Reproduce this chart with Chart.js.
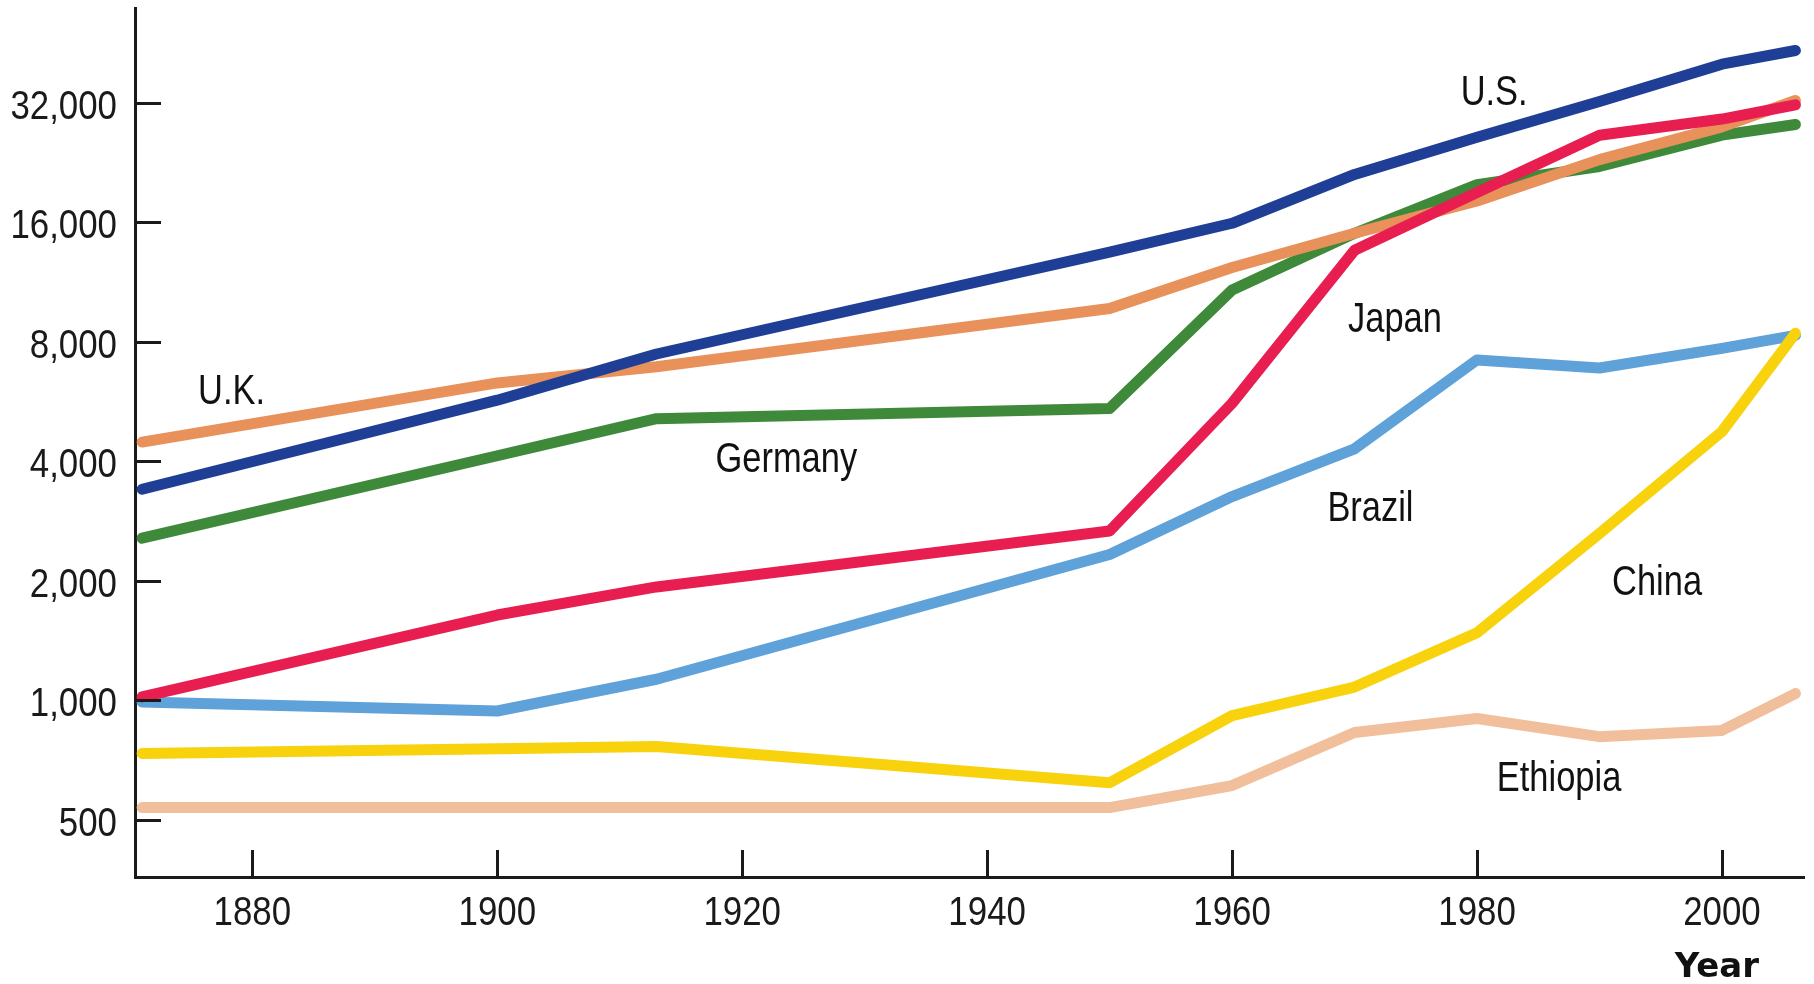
<!DOCTYPE html>
<html>
<head>
<meta charset="utf-8">
<title>GDP per capita, 1870–2006</title>
<script src="https://cdn.jsdelivr.net/npm/chart.js@4.4.1/dist/chart.umd.min.js"></script>
<style>
  html, body { margin: 0; padding: 0; background: #fff; }
  #chart { display: block; }
</style>
</head>
<body>
<canvas id="chart" width="1814" height="984"></canvas>
<script>
/* ── Data ──────────────────────────────────────────── */
const years    = [1871, 1900, 1913, 1950, 1960, 1970, 1980, 1990, 2000, 2006];
const us       = [3400, 5700, 7450, 13450, 15900, 21100, 26200, 32200, 40000, 43300];
const uk       = [4470, 6300, 6920, 9700, 12300, 15000, 18100, 23000, 27800, 32400];
const germany  = [2560, 4130, 5120, 5430, 10800, 15000, 19900, 22100, 26500, 28200];
const japan    = [1020, 1640, 1930, 2670, 5600, 13600, 19000, 26500, 29100, 31600];
const brazil   = [990, 940, 1130, 2330, 3260, 4300, 7200, 6870, 7700, 8300];
const china    = [735, 755, 765, 620, 915, 1080, 1480, 2630, 4750, 8400];
const ethiopia = [537, 537, 537, 537, 610, 830, 900, 810, 840, 1040];

const xTicks = [1880, 1900, 1920, 1940, 1960, 1980, 2000];
const yTicks = [500, 1000, 2000, 4000, 8000, 16000, 32000];

/* label anchors: [text, year, value] (centre / baseline) */
const seriesLabels = [
  ['U.S.',     1981.4, 31600],
  ['U.K.',     1878.3, 5580],
  ['Germany',  1923.6, 3760],
  ['Japan',    1973.3, 8480],
  ['Brazil',   1971.3, 2830],
  ['China',    1994.7, 1840],
  ['Ethiopia', 1986.7, 591]
];

const SANS = '"Liberation Sans", Arial, sans-serif';
const INK = '#1a1a1a';

const pts = vals => years.map((y, i) => ({ x: y, y: vals[i] }));
const line = (label, vals, color) => ({
  label, data: pts(vals),
  borderColor: color, borderWidth: 11,
  borderCapStyle: 'round', borderJoinStyle: 'round',
  pointRadius: 0, tension: 0, fill: false, clip: false
});

/* no condensed face is installed, so squeeze Liberation Sans like Arial Narrow */
function narrowText(ctx, text, x, y, align, size, squeeze) {
  ctx.save();
  ctx.font = size + 'px ' + SANS;
  ctx.textAlign = align;
  ctx.textBaseline = 'alphabetic';
  ctx.translate(x, y);
  ctx.scale(squeeze, 1);
  ctx.fillText(text, 0, 0);
  ctx.restore();
}

/* tick marks point inward, drawn over the lines; tick labels drawn here too */
const axisDecor = {
  id: 'axisDecor',
  afterDatasetsDraw(chart) {
    const { ctx, chartArea: a, scales: { x, y } } = chart;
    ctx.save();
    ctx.strokeStyle = INK;
    ctx.lineWidth = 3;
    ctx.beginPath();
    yTicks.forEach(v => {
      const py = Math.round(y.getPixelForValue(v)) + 0.5;
      ctx.moveTo(a.left, py); ctx.lineTo(a.left + 26, py);
    });
    xTicks.forEach(v => {
      const px = Math.round(x.getPixelForValue(v)) + 0.5;
      ctx.moveTo(px, a.bottom); ctx.lineTo(px, a.bottom - 27);
    });
    ctx.stroke();

    ctx.fillStyle = INK;
    yTicks.forEach(v => {
      narrowText(ctx, v.toLocaleString('en-US'), a.left - 18, y.getPixelForValue(v) + 16, 'right', 41, 0.85);
    });
    xTicks.forEach(v => {
      narrowText(ctx, String(v), x.getPixelForValue(v), a.bottom + 48, 'center', 41, 0.85);
    });
    ctx.restore();
  },
  afterDraw(chart) {
    const { ctx, scales: { x, y } } = chart;
    ctx.save();
    ctx.fillStyle = '#111';
    seriesLabels.forEach(([t, yr, v]) => {
      narrowText(ctx, t, x.getPixelForValue(yr), y.getPixelForValue(v), 'center', 42, 0.82);
    });
    ctx.font = 'bold 34px "DejaVu Sans", sans-serif';
    ctx.textAlign = 'center';
    ctx.textBaseline = 'alphabetic';
    ctx.fillText('Year', x.getPixelForValue(2000) - 5, chart.height - 7);
    ctx.restore();
  }
};

new Chart(document.getElementById('chart'), {
  type: 'line',
  data: {
    datasets: [
      line('U.S.',     us,       '#1f3f96'),
      line('Japan',    japan,    '#e81e50'),
      line('China',    china,    '#f8d20c'),
      line('Brazil',   brazil,   '#5fa1d9'),
      line('U.K.',     uk,       '#e9915a'),
      line('Germany',  germany,  '#3f8a3a'),
      line('Ethiopia', ethiopia, '#f1bf9b')
    ]
  },
  options: {
    responsive: false,
    animation: false,
    devicePixelRatio: 1,
    layout: { padding: { top: 8, right: 10, left: 0, bottom: 0 } },
    plugins: { legend: { display: false }, tooltip: { enabled: false } },
    scales: {
      x: {
        type: 'linear',
        min: 1870.42, max: 2006.7,
        afterBuildTicks: s => { s.ticks = xTicks.map(v => ({ value: v })); },
        afterFit: s => { s.height = 107; },
        grid: { display: false, drawTicks: false },
        border: { display: true, color: INK, width: 3 },
        ticks: { display: false }
      },
      y: {
        type: 'logarithmic',
        min: 359, max: 55400,
        afterBuildTicks: s => { s.ticks = yTicks.map(v => ({ value: v })); },
        afterFit: s => { s.width = 135; },
        grid: { display: false, drawTicks: false },
        border: { display: true, color: INK, width: 3 },
        ticks: { display: false }
      }
    }
  },
  plugins: [axisDecor]
});
</script>
</body>
</html>
